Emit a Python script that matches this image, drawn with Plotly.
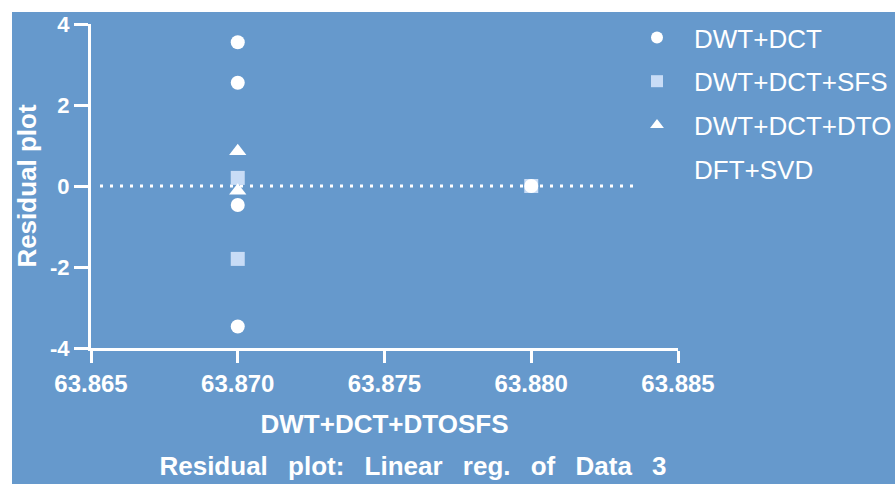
import plotly.graph_objects as go

# Data
series_names = ["DWT+DCT", "DWT+DCT+SFS", "DWT+DCT+DTO", "DFT+SVD"]
circle_x = [63.870, 63.870, 63.870, 63.870, 63.880]
circle_y = [3.55, 2.55, -0.47, -3.47, 0.0]
square_x = [63.870, 63.870, 63.880]
square_y = [0.20, -1.80, 0.0]
triangle_x = [63.870, 63.870]
triangle_y = [0.86, -0.12]
dft_x = [63.880]
dft_y = [0.0]
x_ticks = [63.865, 63.870, 63.875, 63.880, 63.885]
x_tick_labels = ["63.865", "63.870", "63.875", "63.880", "63.885"]
y_ticks = [-4, -2, 0, 2, 4]
y_tick_labels = ["-4", "-2", "0", "2", "4"]
chart_title = "Residual plot: Linear reg. of Data 3"
x_title = "DWT+DCT+DTOSFS"
y_title = "Residual plot"

BLUE = "#6699CC"
WHITE = "#FFFFFF"
LIGHT = "#C8DCF6"
FONT = "Liberation Sans, Arial, sans-serif"

L, R, T, B = 91, 217, 24, 136
W, H = 895, 484
PW, PH = W - L - R, H - T - B

fig = go.Figure()
fig.add_trace(go.Scatter(x=dft_x, y=dft_y, mode="markers", name=series_names[3],
                         marker=dict(symbol="circle", size=12, color="rgba(0,0,0,0)"),
                         legendgroup="d", legendrank=4, cliponaxis=False))
fig.add_trace(go.Scatter(x=square_x, y=square_y, mode="markers", name=series_names[1],
                         marker=dict(symbol="square", size=14, color=LIGHT),
                         legendgroup="b", legendrank=2, cliponaxis=False))
fig.add_trace(go.Scatter(x=triangle_x, y=triangle_y, mode="markers", name=series_names[2],
                         marker=dict(symbol="triangle-up", size=15, color=WHITE),
                         legendgroup="c", legendrank=3, cliponaxis=False))
fig.add_trace(go.Scatter(x=circle_x, y=circle_y, mode="markers", name=series_names[0],
                         marker=dict(symbol="circle", size=14, color=WHITE),
                         legendgroup="a", legendrank=1, cliponaxis=False))

# blue panel behind everything
fig.add_shape(type="rect", xref="paper", yref="paper",
              x0=(12 - L) / PW, x1=2, y0=-1, y1=(H - B - 12) / PH,
              fillcolor=BLUE, line=dict(width=0), layer="below")
# dotted zero line
fig.add_shape(type="line", xref="paper", yref="y",
              x0=(100 - L) / PW, x1=(634 - L) / PW, y0=0, y1=0,
              line=dict(color=WHITE, width=3, dash="3px,7px"), layer="below")

spaced_title = chart_title.replace(" ", "\u00a0\u2002")

fig.update_layout(
    width=W, height=H,
    margin=dict(l=L, r=R, t=T, b=B, autoexpand=False),
    paper_bgcolor="white", plot_bgcolor="rgba(0,0,0,0)",
    font=dict(family=FONT, color=WHITE),
    showlegend=True,
    legend=dict(x=(620 - L) / PW, y=(H - B - 14) / PH, xanchor="left", yanchor="top",
                bgcolor="rgba(0,0,0,0)", font=dict(size=26, color=WHITE, family=FONT),
                tracegroupgap=7, itemwidth=64, itemsizing="constant"),
    title=dict(text=spaced_title, x=413 / W, xanchor="center",
               y=1 - 466 / H, yanchor="middle",
               font=dict(size=26, weight="bold", color=WHITE, family=FONT)),
)
fig.update_xaxes(range=[63.865, 63.885], tickvals=x_ticks, ticktext=x_tick_labels,
                 showgrid=False, zeroline=False, showline=True, linecolor=WHITE, linewidth=3,
                 ticks="outside", ticklen=12, tickwidth=3, tickcolor=WHITE,
                 tickfont=dict(family=FONT, size=24, weight="bold", color=WHITE),
                 title=dict(text=x_title, standoff=20,
                            font=dict(size=26, weight="bold", color=WHITE, family=FONT)))
fig.update_yaxes(range=[-4, 4], tickvals=y_ticks, ticktext=y_tick_labels,
                 showgrid=False, zeroline=False, showline=True, linecolor=WHITE, linewidth=3,
                 ticks="outside", ticklen=14, tickwidth=3, tickcolor=WHITE,
                 tickfont=dict(size=22, weight="bold", color=WHITE, family=FONT),
                 title=dict(text=y_title, standoff=6,
                            font=dict(size=26, weight="bold", color=WHITE, family=FONT)))

fig.write_html("out.html", config={"displayModeBar": False},
               post_script="document.body.style.margin='0';document.body.style.overflow='hidden';")
